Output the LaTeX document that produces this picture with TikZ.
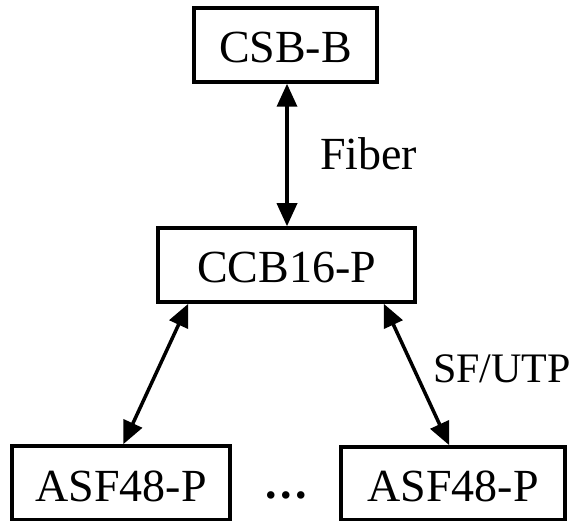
\documentclass[tikz,border=0pt]{standalone}
\usepackage{fontspec}
\setmainfont{Liberation Serif}
\usetikzlibrary{arrows.meta}
\begin{document}
\begin{tikzpicture}[x=1pt,y=-1pt,
  every node/.style={font=\fontsize{46}{55}\selectfont},
  box/.style={draw, line width=3.5pt, inner sep=0pt, text height=41pt, text depth=5pt},
  lbl/.style={inner sep=0pt, anchor=base west},
  link/.style={line width=3.5pt, {Triangle[length=23pt,width=20pt]}-{Triangle[length=23pt,width=20pt]}}]
\useasboundingbox (0,0) rectangle (576,521);
\node[box, minimum width=183pt, minimum height=74pt] (csb) at (285.5,45) {CSB-B};
\node[box, minimum width=257pt, minimum height=74pt] (ccb) at (286.5,265) {CCB16-P};
\node[box, minimum width=218pt, minimum height=74pt] (asfa) at (121,483) {ASF48-P};
\node[box, minimum width=224pt, minimum height=73pt] (asfb) at (453,483.5) {ASF48-P};
\node[inner sep=0pt, anchor=base, font=\fontsize{46}{55}\selectfont\bfseries] (dots) at (286.5,498.5) {.\hspace{3.5pt}.\hspace{3.5pt}.};
\node[lbl] (fiber) at (320,170) {Fiber};
\node[lbl, font=\fontsize{42}{50}\selectfont] (sfutp) at (433,383) {SF/UTP};
\draw[link] ([xshift=1.5pt]csb.south) -- ([xshift=0.5pt]ccb.north);
\draw[link] ([xshift=32pt]ccb.south west) -- ([xshift=113pt]asfa.north west);
\draw[link] ([xshift=-33pt]ccb.south east) -- ([xshift=110pt]asfb.north west);
\end{tikzpicture}
\end{document}
